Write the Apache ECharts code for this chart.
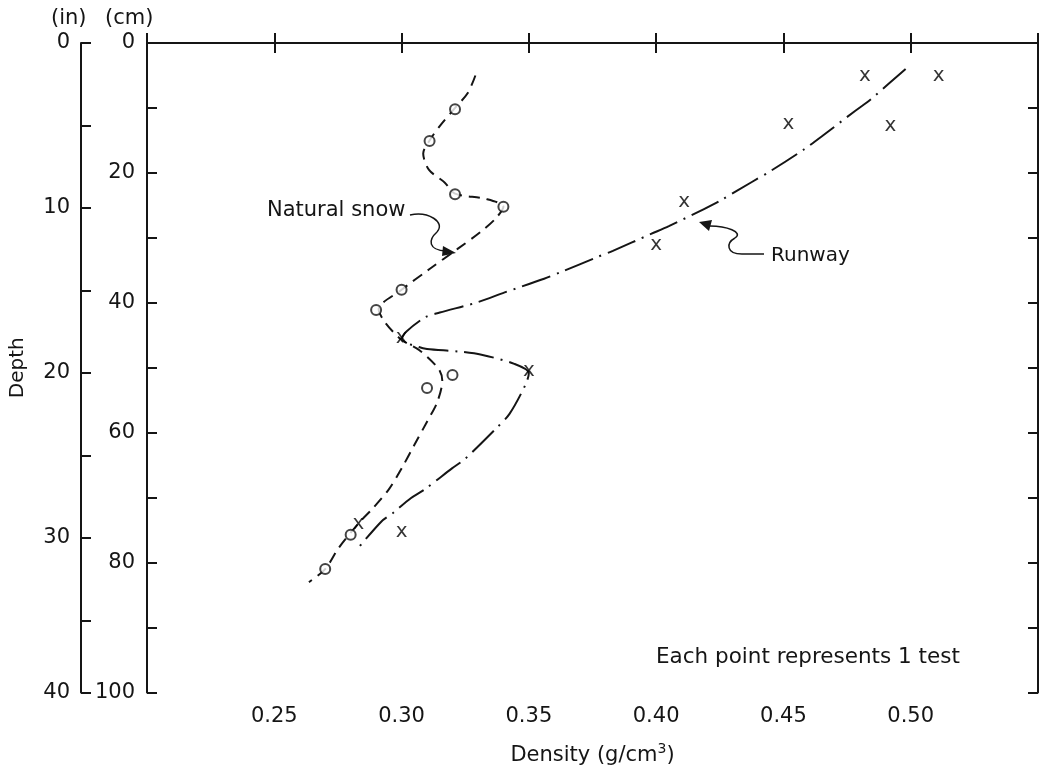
<!DOCTYPE html>
<html>
<head>
<meta charset="utf-8">
<script src="https://cdn.jsdelivr.net/npm/echarts@6/dist/echarts.min.js"></script>
<style>
  html, body { margin: 0; padding: 0; background: #fff; }
  #densityChart { width: 1041px; height: 771px; }
</style>
</head>
<body>
<div id="densityChart"></div>
<script>
  // density (g/cm3), depth (cm)
  const snowPoints = [[0.321, 10.2], [0.311, 15.1], [0.321, 23.3], [0.340, 25.2], [0.300, 38],
    [0.290, 41.1], [0.320, 51.1], [0.310, 53.1], [0.280, 75.7], [0.270, 81]];
  const runwayPoints = [[0.482, 5.3], [0.511, 5.3], [0.492, 13.1], [0.452, 12.7], [0.411, 24.8],
    [0.400, 31.4], [0.300, 45.7], [0.350, 50.8], [0.283, 74.3], [0.300, 75.5]];

  // hand drawn curves
  const snowCurve = [[0.329, 5], [0.326, 7.7], [0.321, 10], [0.315, 12.8], [0.311, 15], [0.3085, 17],
    [0.3107, 19.5], [0.317, 21.5], [0.321, 23.2], [0.333, 24], [0.340, 25.2], [0.337, 27],
    [0.331, 29.1], [0.322, 31.7], [0.311, 34.8], [0.300, 38], [0.291, 41], [0.2935, 43],
    [0.300, 45.7], [0.307, 47.3], [0.3146, 50.2], [0.316, 52], [0.314, 55.3], [0.310, 58.3],
    [0.305, 61.9], [0.300, 65.5], [0.2952, 68.6], [0.2888, 71.6], [0.283, 74], [0.2752, 77.8],
    [0.270, 81], [0.2636, 83]];
  const runwayCurve = [[0.498, 4], [0.486, 8.1], [0.4826, 9.2], [0.478, 10.5], [0.465, 14.4],
    [0.458, 16.4], [0.445, 19.7], [0.4376, 21.4], [0.425, 24.3], [0.4186, 25.6], [0.405, 28.2],
    [0.398, 29.4], [0.383, 32], [0.3766, 33], [0.3624, 35.3], [0.356, 36.3], [0.3405, 38.4],
    [0.330, 39.9], [0.315, 41.5], [0.3094, 42.2], [0.3017, 44.5], [0.300, 45.7], [0.3068, 46.8],
    [0.310, 47.1], [0.3224, 47.5], [0.3314, 48], [0.3443, 49.4], [0.350, 50.8], [0.3488, 52.5],
    [0.3424, 57.1], [0.337, 59.4], [0.325, 64], [0.3198, 65.5], [0.3088, 68.8], [0.3036, 70.1],
    [0.2965, 72.4], [0.292, 73.7], [0.282, 78.2]];

  const densityTicks = [0.25, 0.30, 0.35, 0.40, 0.45, 0.50];
  const cmLabels = [0, 20, 40, 60, 80, 100];
  const inchLabels = [0, 10, 20, 30, 40];
  const inchMinor = [5, 15, 25, 35];

  const ink = '#151515';
  const font = 'DejaVu Sans';
  const inchMax = 100 / 2.54;   // 100 cm in inches

  const chart = echarts.init(document.getElementById('densityChart'));

  function axisBase() {
    return {
      axisLine: { show: true, lineStyle: { color: ink, width: 2 } },
      axisTick: { show: true, inside: true, length: 10, lineStyle: { color: ink, width: 2 } },
      splitLine: { show: false }
    };
  }

  // inch values placed on the inch axis, 40 sits at the bottom end of the scale
  const inchTickValues = inchLabels.concat(inchMinor).map(function (v) { return Math.min(v, inchMax); });
  const inchLabelValues = inchLabels.map(function (v) { return Math.min(v, inchMax); });

  chart.setOption({
    animation: false,
    grid: { left: 145, top: 43, width: 899, height: 652 },
    xAxis: [
      Object.assign(axisBase(), {
        type: 'value', position: 'bottom', min: 0.20, max: 0.55, interval: 0.05,
        name: 'Density (g/cm{sup|3})', nameLocation: 'middle', nameGap: 50,
        nameTextStyle: {
          fontFamily: font, fontSize: 21, color: ink,
          rich: { sup: { fontFamily: font, fontSize: 14, color: ink, verticalAlign: 'top', padding: [0, 0, 12, 0] } }
        },
        axisLabel: {
          margin: 14, fontFamily: font, fontSize: 21, color: ink,
          formatter: function (v) {
            let hit = densityTicks.find(function (t) { return Math.abs(t - v) < 1e-6; });
            return hit === undefined ? '' : hit.toFixed(2);
          }
        }
      }),
      Object.assign(axisBase(), {
        type: 'value', position: 'top', min: 0.20, max: 0.55, interval: 0.05,
        axisLabel: { show: false }
      })
    ],
    yAxis: [
      Object.assign(axisBase(), {
        type: 'value', position: 'left', inverse: true, min: 0, max: 100, interval: 10,
        axisLabel: {
          margin: 12, fontFamily: font, fontSize: 21, color: ink,
          formatter: function (v) { return cmLabels.indexOf(v) >= 0 ? String(v) : ''; }
        }
      }),
      {
        type: 'value', position: 'left', offset: 66, inverse: true, min: 0, max: inchMax,
        name: 'Depth', nameLocation: 'middle', nameGap: 53, nameRotate: 90,
        nameTextStyle: { fontFamily: font, fontSize: 20, color: ink },
        axisLine: { show: true, lineStyle: { color: ink, width: 2 } },
        axisTick: { show: true, inside: true, length: 10, customValues: inchTickValues, lineStyle: { color: ink, width: 2 } },
        splitLine: { show: false },
        axisLabel: {
          margin: 11, fontFamily: font, fontSize: 21, color: ink, customValues: inchLabelValues,
          formatter: function (v) { return v > inchMax - 0.01 ? '40' : String(Math.round(v)); }
        }
      },
      Object.assign(axisBase(), {
        type: 'value', position: 'right', inverse: true, min: 0, max: 100, interval: 10,
        axisLabel: { show: false }
      })
    ],
    graphic: [
      { type: 'text', left: 51, top: 8, style: { text: '(in)', font: '21px "DejaVu Sans"', fill: ink } },
      { type: 'text', left: 105, top: 8, style: { text: '(cm)', font: '21px "DejaVu Sans"', fill: ink } },
      { type: 'text', left: 267, top: 200, style: { text: 'Natural snow', font: '21px "DejaVu Sans"', fill: ink } },
      { type: 'text', left: 771, top: 246, style: { text: 'Runway', font: '20px "DejaVu Sans"', fill: ink } },
      { type: 'text', left: 656, top: 646, style: { text: 'Each point represents 1 test', font: '21.5px "DejaVu Sans"', fill: ink } },
      // natural snow arrow
      { type: 'bezierCurve', shape: { x1: 410, y1: 215, cpx1: 428, cpy1: 211, cpx2: 446, cpy2: 222, x2: 437, y2: 232 },
        style: { stroke: ink, lineWidth: 1.5, fill: null } },
      { type: 'bezierCurve', shape: { x1: 437, y1: 232, cpx1: 428, cpy1: 240, cpx2: 428, cpy2: 250, x2: 446, y2: 251 },
        style: { stroke: ink, lineWidth: 1.5, fill: null } },
      { type: 'polygon', shape: { points: [[456, 253], [443, 246], [442, 256]] }, style: { fill: ink } },
      // runway arrow
      { type: 'line', shape: { x1: 764, y1: 254, x2: 742, y2: 254 }, style: { stroke: ink, lineWidth: 1.5 } },
      { type: 'bezierCurve', shape: { x1: 742, y1: 254, cpx1: 726, cpy1: 254, cpx2: 726, cpy2: 243, x2: 735, y2: 238 },
        style: { stroke: ink, lineWidth: 1.5, fill: null } },
      { type: 'bezierCurve', shape: { x1: 735, y1: 238, cpx1: 744, cpy1: 232, cpx2: 726, cpy2: 226, x2: 710, y2: 226 },
        style: { stroke: ink, lineWidth: 1.5, fill: null } },
      { type: 'polygon', shape: { points: [[699, 222], [712, 220], [709, 231]] }, style: { fill: ink } }
    ],
    series: [
      {
        name: 'Natural snow', type: 'line', smooth: 0.3, symbol: 'none', data: snowCurve,
        lineStyle: { color: ink, width: 2, type: [11, 7] }
      },
      {
        name: 'Runway', type: 'line', smooth: 0.3, symbol: 'none', data: runwayCurve,
        lineStyle: { color: ink, width: 2, type: [30, 7, 2, 7] }
      },
      {
        name: 'Natural snow tests', type: 'scatter', symbol: 'emptyCircle', symbolSize: 10, data: snowPoints,
        itemStyle: { color: ink, borderWidth: 1.4 }, z: 5
      },
      {
        name: 'Runway tests', type: 'scatter', symbol: 'circle', symbolSize: 1, data: runwayPoints,
        itemStyle: { color: 'rgba(0,0,0,0)' }, z: 5,
        label: {
          show: true, position: 'inside', formatter: 'x', offset: [0, -2],
          fontFamily: font, fontSize: 20, color: '#000', textBorderWidth: 0
        }
      }
    ]
  });
</script>
</body>
</html>
